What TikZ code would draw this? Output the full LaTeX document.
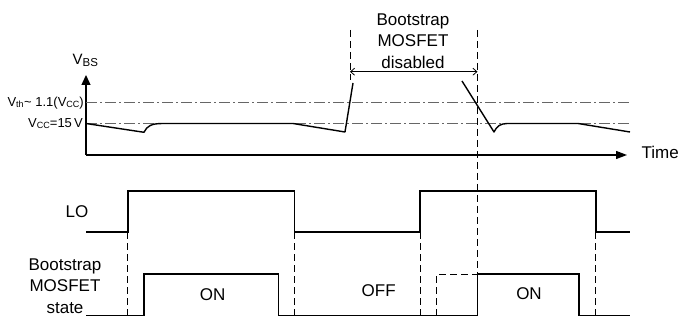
\documentclass[tikz,border=0pt]{standalone}
\usepackage{fontspec}
\setmainfont{Liberation Sans}
\usetikzlibrary{arrows.meta}
\begin{document}
\begin{tikzpicture}[x=1pt,y=-1pt,
  sig/.style={line width=1.6pt, line join=miter},
  axis/.style={line width=1.3pt},
  vcurve/.style={line width=1.4pt, line join=round},
  guide/.style={line width=0.9pt, dash pattern=on 7pt off 4pt},
  level/.style={line width=0.9pt, draw=black!60, dash pattern=on 11pt off 3pt on 2pt off 3pt},
  lbl/.style={font=\fontsize{17}{20}\selectfont, inner sep=0pt},
  small/.style={font=\fontsize{13}{15}\selectfont, inner sep=0pt},
]
\useasboundingbox (0,0) rectangle (694,320);
% axes
\coordinate (O) at (86,155);
\coordinate (Ytip) at (86,75);
\coordinate (Xtip) at (627,155);
\draw[axis,-{Triangle[length=10pt,width=9pt]}] (O) -- (Ytip);
\draw[axis,-{Triangle[length=11pt,width=8pt]}] (O) -- (Xtip);
% levels
\coordinate (th0) at (86,102.8); \coordinate (th1) at (630,102.8);
\coordinate (cc0) at (86,123.5); \coordinate (cc1) at (630,123.5);
\draw[level] (th0) -- (th1);
\draw[level] (cc0) -- (cc1);
% VBS curve
\draw[vcurve] (86,123.5) -- (144,132.3) .. controls (147,126) and (151,123.5) .. (163,123.5)
  -- (293,123.5) -- (345,132) -- (353,83);
\draw[vcurve] (462,81) -- (494,132) .. controls (497,126) and (500,123.8) .. (507,123.5)
  -- (578,123.5) -- (630,132);
% disabled window
\coordinate (d1t) at (350,30); \coordinate (d1b) at (350,80);
\coordinate (d2t) at (477.5,30); \coordinate (d2b) at (477.5,274.3);
\draw[guide] (d1t) -- (d1b);
\draw[guide] (d2t) -- (d2b);
\coordinate (a1) at (350,71.7); \coordinate (a2) at (477.5,71.7);
\draw[line width=0.8pt, {Straight Barb[length=4pt,width=7pt]}-{Straight Barb[length=4pt,width=7pt]}] (a1) -- (a2);
\node[lbl, anchor=base] (dis1) at (413,25.7) {Bootstrap};
\node[lbl, anchor=base] (dis2) at (413,46.9) {MOSFET};
\node[lbl, anchor=base] (dis3) at (413,68.1) {disabled};
% labels of upper chart
\node[inner sep=0pt, anchor=base west] (vbs) at (72.5,65)
  {\fontsize{15}{16}\selectfont V\raisebox{-1.7pt}{\fontsize{11.5}{12}\selectfont BS}};
\node[small, anchor=east] (vth) at (84,102.8)
  {V\raisebox{-1.5pt}{\fontsize{9}{10}\selectfont th}\kern0.5pt{\char`\~}~1.1(V\raisebox{-1.5pt}{\fontsize{9}{10}\selectfont CC})};
\node[small, anchor=east] (vcc) at (83,123.5)
  {V\raisebox{-1.5pt}{\fontsize{9}{10}\selectfont CC}=15\,V};
\node[lbl, anchor=base west] (time) at (641.5,158.3) {Time};
% LO signal
\draw[sig] (86,232.3) -- (127.7,232.3) -- (127.7,191) -- (294.3,191) -- (294.3,232.3)
  -- (420,232.3) -- (420,191) -- (595.7,191) -- (595.7,232.3) -- (630,232.3);
% state signal
\draw[sig] (86,315.7) -- (144,315.7) -- (144,274.3) -- (278.3,274.3) -- (278.3,315.7)
  -- (477.5,315.7) -- (477.5,274.3) -- (579,274.3) -- (579,315.7) -- (630,315.7);
% guides
\draw[guide] (127.7,232.3) -- (127.7,315.7);
\draw[guide] (294.3,232.3) -- (294.3,315.7);
\draw[guide] (420,232.3) -- (420,315.7);
\draw[guide] (595.7,232.3) -- (595.7,315.7);
\draw[guide] (436.7,315.7) -- (436.7,274.3) -- (477.5,274.3);
% labels lower chart
\node[lbl, anchor=center] (lo) at (77,211.7) {LO};
\node[lbl, anchor=base] (st1) at (65,270.5) {Bootstrap};
\node[lbl, anchor=base] (st2) at (65,292) {MOSFET};
\node[lbl, anchor=base] (st3) at (65,313.5) {state};
\node[lbl, anchor=base] (on1) at (212.7,300.5) {ON};
\node[lbl, anchor=base] (off) at (378.7,296.7) {OFF};
\node[lbl, anchor=base] (on2) at (529,300) {ON};
\end{tikzpicture}
\end{document}
